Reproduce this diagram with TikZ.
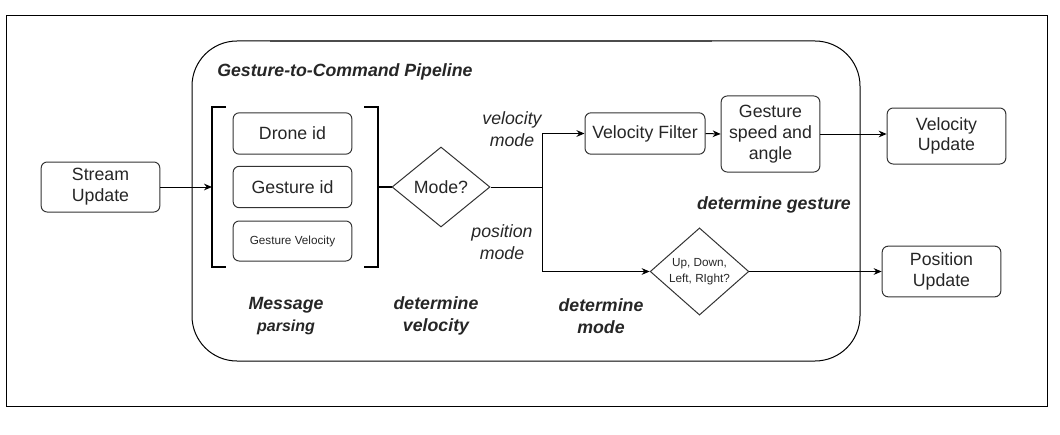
\documentclass[tikz,border=0pt]{standalone}
\usepackage{fontspec}
\setmainfont{Liberation Sans}
\usetikzlibrary{shapes.geometric,arrows.meta}

\begin{document}
\begin{tikzpicture}[x=0.75pt,y=-0.75pt]
						\tikzstyle{every node}+=[inner sep=0pt, text=black!85, font=\fontsize{13.3}{15.6}\selectfont]
						\tikzstyle{box}=[draw=black!80, line width=0.75pt, rounded corners=4.5pt, align=center]
						\tikzstyle{choice}=[draw=black!80, line width=0.75pt, diamond, align=center]
						\tikzstyle{tag}=[font=\fontsize{13.3}{16.5}\selectfont\itshape, align=center]
						\tikzstyle{stage}=[font=\fontsize{13.3}{16.5}\selectfont\bfseries\itshape, align=center]
						\tikzstyle{flow}=[black, line width=0.75pt, -{Stealth[length=6pt,width=5pt]}]
						\tikzstyle{brace}=[black, line width=1.5pt]
						\useasboundingbox (0,0) rectangle (1060,435);
						\draw [black, line width=0.75pt] (6,16) rectangle (1047,406);
						\draw [black, line width=0.75pt, rounded corners=33.75pt] (192,41) rectangle (860,361);
						\draw [black!70, line width=1.5pt] (270,41) -- (712,41);
						\node [stage, anchor=west] (title) at (217,72) {Gesture-to-Command Pipeline};
						\node [box, minimum width=89pt, minimum height=37.5pt] (stream) at (100.5,187) {Stream\\Update};
						\node [box, minimum width=89pt, minimum height=31pt] (drone) at (292.5,133.5) {Drone id};
						\node [box, minimum width=89pt, minimum height=31pt] (gid) at (292.5,187) {Gesture id};
						\node [box, minimum width=89pt, minimum height=30pt, font=\fontsize{8.8}{11}\selectfont] (gvel) at (292.5,241) {Gesture Velocity};
						\draw [brace] (226,107) -- (212,107) -- (212,267) -- (226,267);
						\draw [brace] (364,107) -- (378,107) -- (378,267) -- (364,267);
						\coordinate (parsein) at (212,187);
						\coordinate (parseout) at (378,187);
						\node [choice, minimum width=73.5pt, minimum height=60pt] (mode) at (441,187) {Mode?};
						\coordinate (split) at (542,187);
						\node [box, minimum width=90pt, minimum height=31pt] (vfilter) at (645,133.5) {Velocity Filter};
						\node [box, minimum width=74pt, minimum height=57pt] (gspeed) at (770.5,134) {Gesture\\speed and\\angle};
						\node [box, minimum width=89pt, minimum height=42pt] (vupd) at (946.5,136) {Velocity\\Update};
						\node [choice, minimum width=74pt, minimum height=61pt, font=\fontsize{8.8}{12}\selectfont] (dir) at (699.5,271.5) {Up, Down,\\Left, RIght?};
						\node [box, minimum width=89pt, minimum height=38pt] (pupd) at (941.5,271.5) {Position\\Update};
						\draw [flow] (stream.east) -- (parsein);
						\draw [black, line width=1.5pt] (parseout) -- (mode.west);
						\draw [black, line width=0.75pt] (mode.east) -- (split);
						\draw [flow] (split) |- (vfilter.west);
						\draw [flow] (split) |- (dir.west);
						\draw [flow] (vfilter.east) -- (gspeed.west);
						\draw [flow] (gspeed.east) -- (gspeed.east -| vupd.west);
						\draw [flow] (dir.east) -- (pupd.west);
						\node [tag] (vmode) at (512,129) {velocity\\mode};
						\node [tag] (pmode) at (502,242) {position\\mode};
						\node [stage] (dgesture) at (774,205) {determine gesture};
						\node [stage] (parsing) at (286,316) {Message\\{\fontsize{12}{14}\selectfont parsing}};
						\node [stage] (dvelocity) at (436,316) {determine\\velocity};
						\node [stage] (dmode) at (601,316) {determine\\mode};
					\end{tikzpicture}
\end{document}
